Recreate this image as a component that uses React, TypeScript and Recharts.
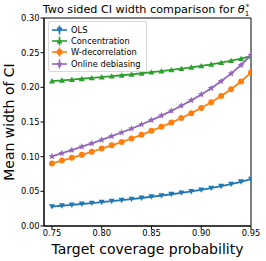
import React from "react";
import { LineChart, Line, XAxis, YAxis, ReferenceArea } from "recharts";

const coverage = [0.75, 0.76, 0.77, 0.78, 0.79, 0.8, 0.81, 0.82, 0.83, 0.84, 0.85, 0.86, 0.87, 0.88, 0.89, 0.9, 0.91, 0.92, 0.93, 0.94, 0.95];

const ols = [0.028, 0.0292, 0.0304, 0.0317, 0.033, 0.0344, 0.0358, 0.0373, 0.0388, 0.0404, 0.0422, 0.0439, 0.0458, 0.0478, 0.0499, 0.0522, 0.0547, 0.0574, 0.0604, 0.0638, 0.0676];
const concentration = [0.209, 0.2101, 0.2112, 0.2124, 0.2136, 0.2148, 0.2161, 0.2174, 0.2188, 0.2203, 0.2218, 0.2234, 0.2251, 0.2269, 0.2289, 0.2309, 0.2332, 0.2356, 0.2384, 0.2414, 0.2449];
const wDecorrelation = [0.0903, 0.0943, 0.0983, 0.1027, 0.1071, 0.1116, 0.1163, 0.1211, 0.1262, 0.1315, 0.1372, 0.143, 0.1491, 0.1558, 0.1627, 0.1703, 0.1784, 0.1874, 0.1973, 0.2085, 0.2213];
const onlineDebiasing = [0.1005, 0.105, 0.1095, 0.1144, 0.1192, 0.1243, 0.1295, 0.1349, 0.1405, 0.1464, 0.1528, 0.1592, 0.1661, 0.1735, 0.1812, 0.1897, 0.1987, 0.2088, 0.2198, 0.2322, 0.2464];

const xTicks = [0.75, 0.8, 0.85, 0.9, 0.95];
const yTicks = [0, 0.05, 0.1, 0.15, 0.2, 0.25, 0.3];

const series = [
  { key: "ols", name: "OLS", color: "#1f77b4", marker: "tridown" },
  { key: "conc", name: "Concentration", color: "#2ca02c", marker: "triup" },
  { key: "wdec", name: "W-decorrelation", color: "#ff7f0e", marker: "circle" },
  { key: "online", name: "Online debiasing", color: "#9467bd", marker: "star" },
];

const data = coverage.map((c, i) => ({
  x: c,
  ols: ols[i],
  conc: concentration[i],
  wdec: wDecorrelation[i],
  online: onlineDebiasing[i],
}));

const FONT = "DejaVu Sans, sans-serif";

function Marker({ cx, cy, type, color }: { cx: number; cy: number; type: string; color: string }) {
  const r = 3;
  if (type === "circle") return <circle cx={cx} cy={cy} r={r} fill={color} />;
  if (type === "triup")
    return <polygon points={`${cx},${cy - r} ${cx - r},${cy + r * 0.8} ${cx + r},${cy + r * 0.8}`} fill={color} />;
  if (type === "tridown")
    return <polygon points={`${cx},${cy + r} ${cx - r},${cy - r * 0.8} ${cx + r},${cy - r * 0.8}`} fill={color} />;
  // star
  const pts: string[] = [];
  for (let k = 0; k < 10; k++) {
    const rad = k % 2 === 0 ? r + 0.6 : (r + 0.6) * 0.45;
    const a = -Math.PI / 2 + (k * Math.PI) / 5;
    pts.push(`${cx + rad * Math.cos(a)},${cy + rad * Math.sin(a)}`);
  }
  return <polygon points={pts.join(" ")} fill={color} />;
}

function LegendBox() {
  return (
    <div
      style={{
        position: "absolute",
        left: 48,
        top: 21,
        border: "1px solid #d9d9d9",
        borderRadius: 2,
        background: "rgba(255,255,255,0.8)",
        padding: "2px 5px 2px 3px",
        fontFamily: FONT,
        fontSize: 8.3,
        color: "#000",
      }}
    >
      {series.map((s) => (
        <div key={s.key} style={{ display: "flex", alignItems: "center", height: 11.3 }}>
          <svg width={15} height={10} style={{ marginRight: 4 }}>
            <line x1={0} y1={5} x2={15} y2={5} stroke={s.color} strokeWidth={1.6} />
            <line x1={7.5} y1={0.5} x2={7.5} y2={9.5} stroke={s.color} strokeWidth={1.6} />
            <Marker cx={7.5} cy={5} type={s.marker} color={s.color} />
          </svg>
          <span>{s.name}</span>
        </div>
      ))}
    </div>
  );
}

export default function App() {
  return (
    <div style={{ position: "relative", width: 266, height: 261, background: "#fff", fontFamily: FONT }}>
      <style>{"body{margin:0}"}</style>
      <svg width={266} height={18} style={{ position: "absolute", left: 0, top: 0 }}>
        <text x={146} y={13} textAnchor="middle" fontFamily={FONT} fontSize={11.2} fill="#000">
          Two sided CI width comparison for <tspan fontStyle="italic">θ</tspan>
          <tspan fontSize={7} dy={3}>1</tspan>
          <tspan fontSize={7} dx={-3.5} dy={-7}>*</tspan>
        </text>
      </svg>
      <LineChart width={266} height={261} data={data} margin={{ top: 18, right: 15, bottom: 0, left: 0 }}>
        <XAxis
          dataKey="x"
          type="number"
          domain={[0.742, 0.95]}
          ticks={xTicks}
          allowDataOverflow
          tickFormatter={(v: number) => v.toFixed(2)}
          tick={{ fontFamily: FONT, fontSize: 8.3, fill: "#000" }}
          tickSize={3.5}
          tickMargin={1}
          stroke="#000"
          height={35}
          label={{ value: "Target coverage probability", position: "insideBottom", offset: 7, style: { fontFamily: FONT, fontSize: 14, fill: "#000" } }}
        />
        <YAxis
          type="number"
          domain={[0, 0.3]}
          ticks={yTicks}
          tickFormatter={(v: number) => v.toFixed(2)}
          tick={{ fontFamily: FONT, fontSize: 8.3, fill: "#000" }}
          tickSize={3.5}
          tickMargin={1}
          stroke="#000"
          width={44}
        />
        <ReferenceArea x1={0.742} x2={0.95} y1={0} y2={0.3} fill="none" stroke="#000" strokeWidth={1} ifOverflow="visible" />
        <text x={14} y={122} transform="rotate(-90 14 122)" textAnchor="middle" fontFamily={FONT} fontSize={14} fill="#000">
          Mean width of CI
        </text>
        {series.map((s) => (
          <Line
            key={s.key}
            dataKey={s.key}
            name={s.name}
            stroke={s.color}
            strokeWidth={1.8}
            isAnimationActive={false}
            dot={(p: any) => <Marker key={p.index} cx={p.cx} cy={p.cy} type={s.marker} color={s.color} />}
          />
        ))}
      </LineChart>
      <LegendBox />
    </div>
  );
}
